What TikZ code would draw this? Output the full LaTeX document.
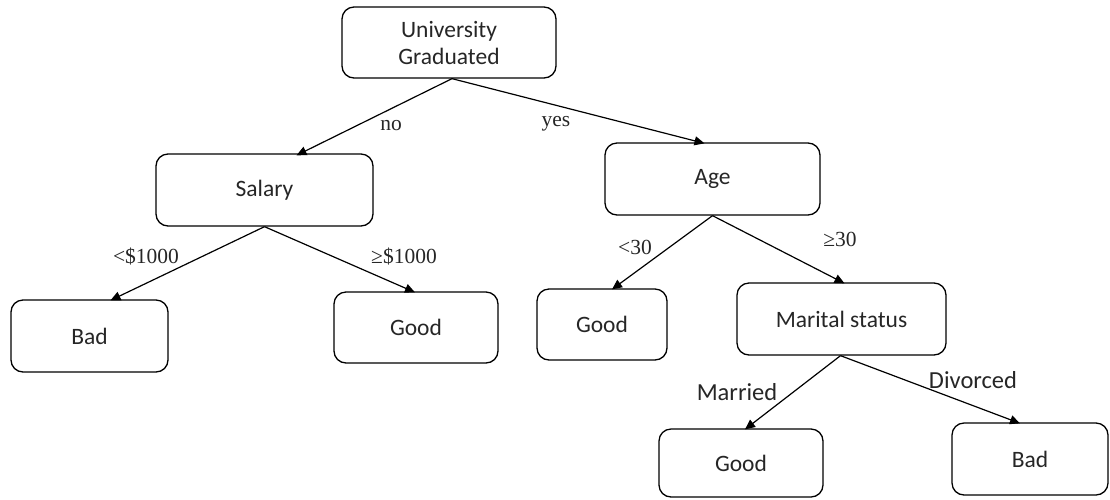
\documentclass[tikz,border=0pt]{standalone}
\usepackage{fontspec}
\setmainfont{Liberation Serif}
\newfontfamily\boxfont{Carlito}
\usetikzlibrary{arrows.meta,calc}
\begin{document}
\begin{tikzpicture}[x=1pt,y=-1pt,
  decision/.style={draw, line width=1.3pt, rounded corners=12pt, inner sep=0pt,
    font=\boxfont\fontsize{23.5}{27}\selectfont, align=center, text=black!85},
  branch/.style={line width=1.2pt, -{Triangle[length=10pt,width=9pt]}},
  cond/.style={font=\fontsize{21.5}{24}\selectfont, inner sep=0pt, text=black!85},
  condsans/.style={font=\boxfont\fontsize{24.5}{28}\selectfont, inner sep=0pt, text=black!85}]
\useasboundingbox (0,0) rectangle (1110,499);

% decision boxes (centre, width, height)
\node[decision, minimum width=214pt, minimum height=71pt] (univ) at (449,42.5) {University\\Graduated};
\node[decision, minimum width=217pt, minimum height=72pt] (sal) at (264.5,190) {Salary};
\node[decision, minimum width=215pt, minimum height=72pt] (age) at (712.5,179) {Age};
\node[decision, minimum width=157pt, minimum height=72pt] (bad1) at (89.5,336) {Bad};
\node[decision, minimum width=164pt, minimum height=71pt] (good1) at (416,327.5) {Good};
\node[decision, minimum width=130pt, minimum height=71pt] (good2) at (602,324.5) {Good};
\node[decision, minimum width=209pt, minimum height=72pt] (mar) at (841.5,319) {Marital status};
\node[decision, minimum width=164pt, minimum height=68pt] (good3) at (741,463) {Good};
\node[decision, minimum width=156pt, minimum height=72pt] (bad2) at (1030,459) {Bad};

% branches
\draw[branch] ([xshift=3pt]univ.south) -- ([xshift=32pt,yshift=-2pt]sal.north);
\draw[branch] ([xshift=3pt]univ.south) -- ([xshift=-8pt,yshift=-1pt]age.north);
\draw[branch] (sal.south) -- ([xshift=21pt,yshift=-1pt]bad1.north);
\draw[branch] (sal.south) -- ([xshift=-1pt,yshift=-1pt]good1.north);
\draw[branch] (age.south) -- ([xshift=10pt,yshift=-1pt]good2.north);
\draw[branch] (age.south) -- ([xshift=3pt,yshift=-1pt]mar.north);
\draw[branch] ([xshift=-1pt]mar.south) -- ([xshift=4pt,yshift=-1pt]good3.north);
\draw[branch] ([xshift=-1pt]mar.south) -- ([xshift=-10pt,yshift=-1pt]bad2.north);

% branch conditions
\node[cond] (lno) at (391,126) {no};
\node[cond] (lyes) at (556,124) {yes};
\node[cond] (llow) at (146,257) {<\$1000};
\node[cond] (lhigh) at (404,257) {≥\$1000};
\node[cond] (lyoung) at (635,247) {<30};
\node[cond] (lold) at (840,239) {≥30};
\node[condsans] (lmar) at (737,392) {Married};
\node[condsans] (ldiv) at (973,380) {Divorced};
\end{tikzpicture}
\end{document}
